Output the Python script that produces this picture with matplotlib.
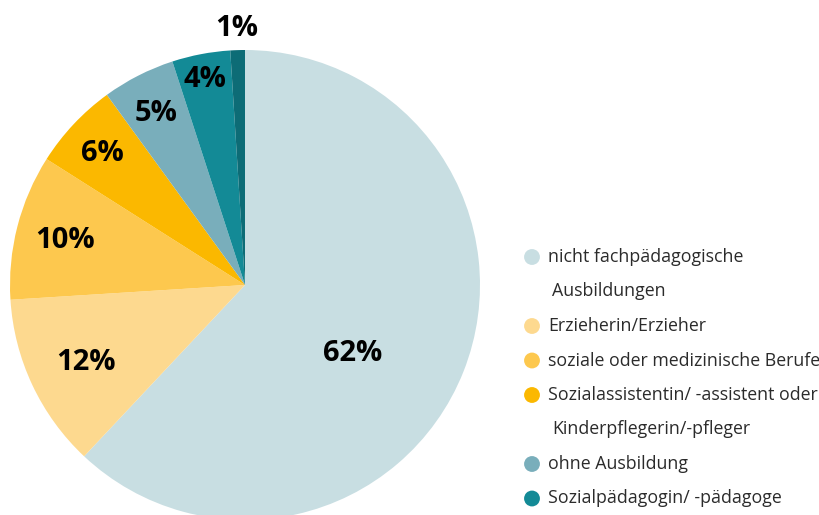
import numpy as np
import matplotlib
matplotlib.use("Agg")
import matplotlib.pyplot as plt

# data
categories = [
    "nicht fachpädagogische\nAusbildungen",
    "Erzieherin/Erzieher",
    "soziale oder medizinische Berufe",
    "Sozialassistentin/ -assistent oder\nKinderpflegerin/-pfleger",
    "ohne Ausbildung",
    "Sozialpädagogin/ -pädagoge",
    "sonstige",
]
shares = [62, 12, 10, 6, 5, 4, 1]
show_in_legend = [True, True, True, True, True, True, False]

colors = ["#c8dee2", "#fdd98f", "#fdc84e", "#fbb800", "#79aebb", "#138a96", "#0d6c76"]
label_dist = [0.54, 0.75, 0.79, 0.83, 0.83, 0.9, 1.1]
label_shift = [-10, 0, 0, 0, 0, 0, 0]  # degrees

plt.rcParams["font.family"] = ["Open Sans", "DejaVu Sans"]

W, H = 820, 515
fig = plt.figure(figsize=(W / 100, H / 100), dpi=100)
ax = fig.add_axes([0, 0, 1, 1])

cx, cy, R = 245, H - 285, 235
wedges, _ = ax.pie(
    shares,
    colors=colors,
    startangle=90,
    counterclock=False,
    radius=R,
    center=(cx, cy),
    frame=True,
    wedgeprops=dict(linewidth=0),
)
ax.set_xlim(0, W)
ax.set_ylim(0, H)
ax.set_aspect("equal")
ax.axis("off")

for w, val, d, sh in zip(wedges, shares, label_dist, label_shift):
    mid = np.deg2rad((w.theta1 + w.theta2) / 2 + sh)
    x = cx + d * R * np.cos(mid)
    y = cy + d * R * np.sin(mid) - 2
    ax.text(x, y, f"{val}%", ha="center", va="center",
            fontsize=21, fontweight="bold", color="black")

# legend drawn by hand
row_y = H - 257
step = 34.5
for cat, col, show in zip(categories, colors, show_in_legend):
    if not show:
        continue
    lines = cat.split("\n")
    ax.scatter([532], [row_y], s=130, color=col, edgecolor="none")
    for i, line in enumerate(lines):
        ax.text(548 + (4 if i else 0), row_y, line, ha="left", va="center",
                fontsize=12.8, color="#2b2b2b")
        row_y -= step

fig.savefig("out.png", dpi=100)
